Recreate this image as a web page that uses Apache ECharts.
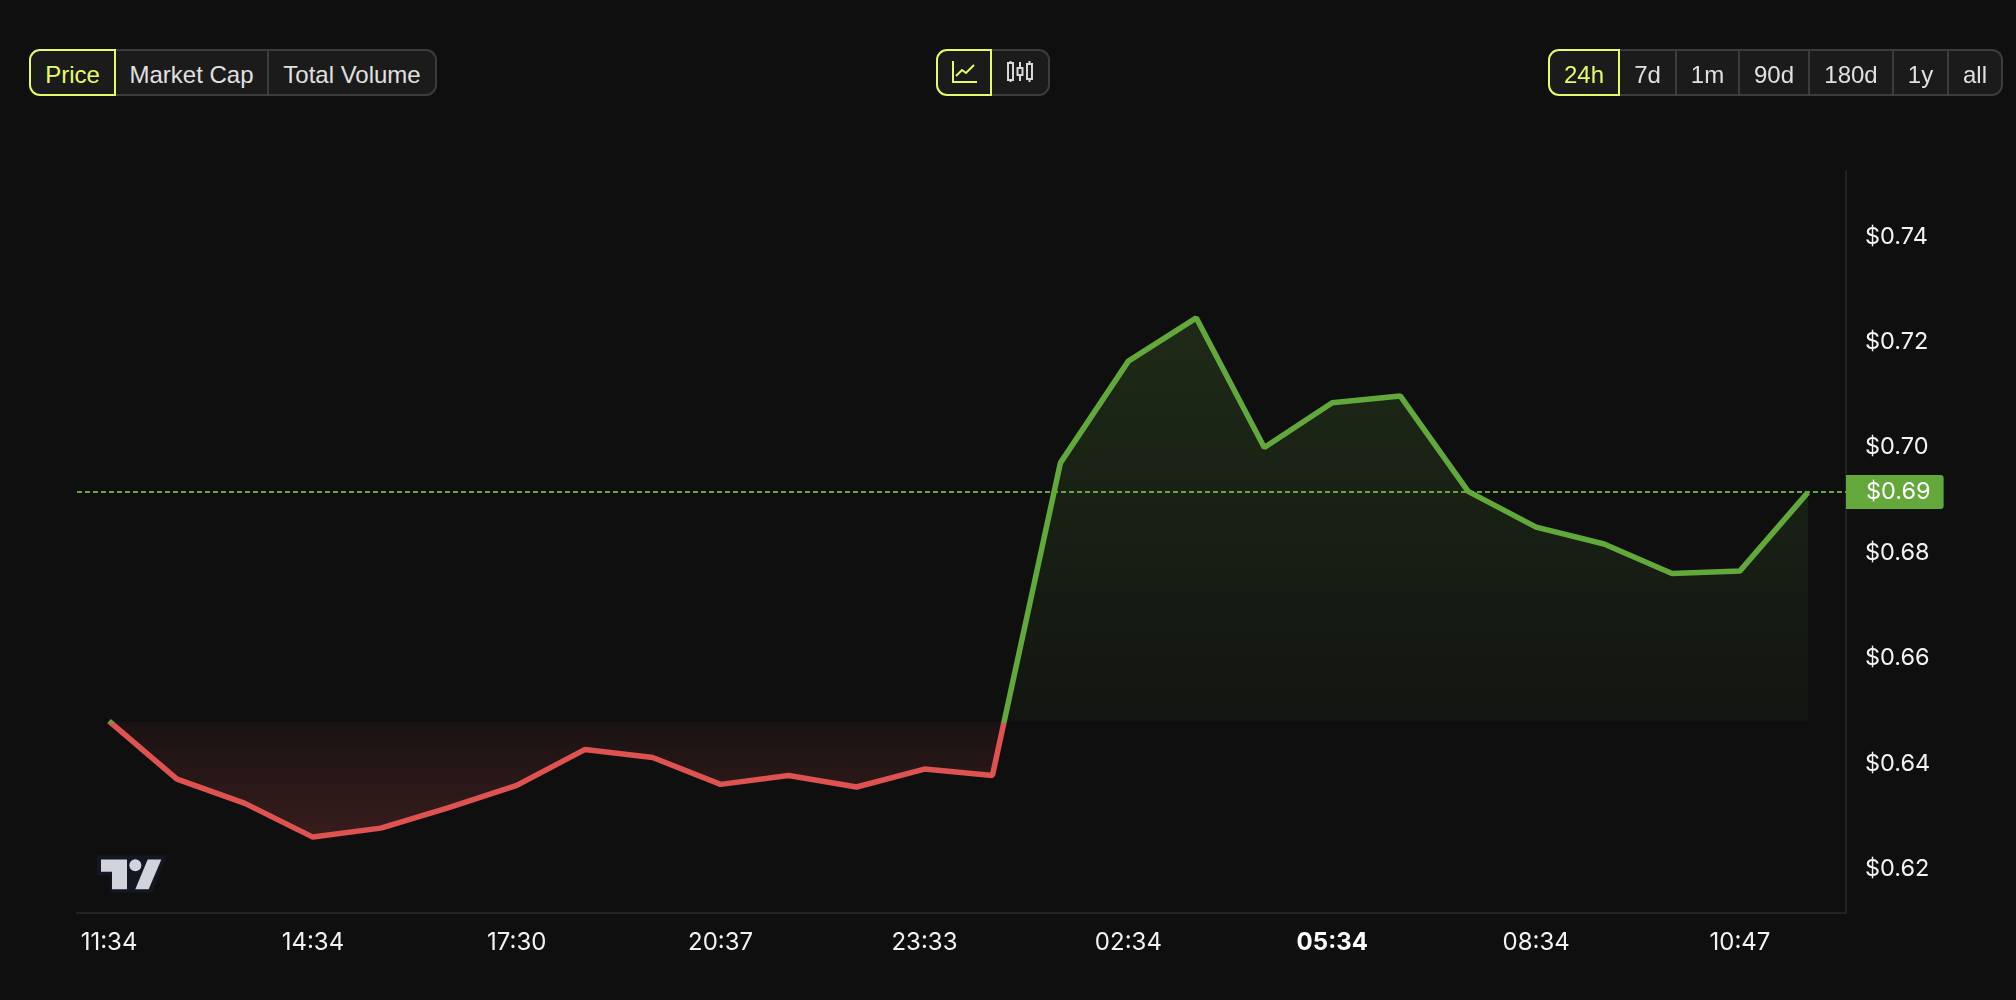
<!DOCTYPE html>
<html>
<head>
<meta charset="utf-8">
<title>Price chart</title>
<script src="https://cdn.jsdelivr.net/npm/echarts@6/dist/echarts.min.js"></script>
<style>
html, body { margin: 0; height: 100%; background: #0f0f0f; overflow: hidden; }
#chart { position: absolute; left: 0; top: 0; width: 2016px; height: 1000px; }
.group {
    position: absolute; top: 49px; height: 47px; display: flex; box-sizing: border-box;
    font: 24px "Liberation Sans", sans-serif; color: #e0e0e0;
}
.group div {
    box-sizing: border-box; height: 47px; line-height: 47px; text-align: center;
    background: #1b1b1b; border: 2px solid #3c3c3c; border-left: 0;
}
.group div:first-child { border-left: 2px solid #3c3c3c; border-radius: 11px 0 0 11px; }
.group div:last-child { border-radius: 0 11px 11px 0; }
.group div.on { color: #e4fc6a; border: 2px solid #e4fc6a; }
.group svg { display: block; margin: 10px auto 0; }
#logo { position: absolute; left: 97px; top: 855px; }
</style>
</head>
<body>
<div id="chart"></div>

<div class="group" style="left:29px">
    <div class="on" style="width:87px">Price</div>
    <div style="width:153px">Market Cap</div>
    <div style="width:168px">Total Volume</div>
</div>

<div class="group" style="left:936px">
    <div class="on" style="width:56px">
        <svg width="26" height="24" viewBox="0 0 26 24" fill="none" stroke="#e4fc6a" stroke-width="2">
            <path d="M2 0V21H26M5 15L11 9L15 12L23 4"/>
        </svg>
    </div>
    <div style="width:58px">
        <svg width="26" height="22" viewBox="0 0 26 22" fill="none" stroke="#d8d8d8" stroke-width="2">
            <path d="M3.5 0V2M3.5 19V21M13 1V7M13 14V20M22.5 0V3M22.5 18V21"/>
            <rect x="1" y="2" width="5" height="17"/>
            <rect x="10.5" y="7" width="5" height="7"/>
            <rect x="20" y="3" width="5" height="15"/>
        </svg>
    </div>
</div>

<div class="group" style="left:1548px">
    <div class="on" style="width:72px">24h</div>
    <div style="width:57px">7d</div>
    <div style="width:63px">1m</div>
    <div style="width:70px">90d</div>
    <div style="width:84px">180d</div>
    <div style="width:55px">1y</div>
    <div style="width:54px">all</div>
</div>

<svg id="logo" width="70" height="38" viewBox="110 465 210 113">
    <path fill="#131722" d="M110 465H320L275 578H148V525H110Z"/>
    <path fill="#d1d4dc" d="M122 478H200V567H155V515H122Z"/>
    <circle fill="#d1d4dc" cx="225" cy="495" r="18"/>
    <path fill="#d1d4dc" d="M262 478H303L265 567H225Z"/>
</svg>

<script>
const times = ['11:34', '12:34', '13:34', '14:34', '15:34', '16:34', '17:30', '18:34', '19:34',
    '20:37', '21:34', '22:34', '23:33', '00:34', '01:34', '02:34', '03:34', '04:34', '05:34',
    '06:34', '07:34', '08:34', '09:34', '10:34', '10:47', '11:34']
const prices = [0.6476, 0.6366, 0.6320, 0.6256, 0.6273, 0.6312, 0.6354, 0.6422, 0.6407,
    0.6356, 0.6373, 0.6351, 0.6385, 0.6373, 0.6966, 0.7159, 0.7241, 0.6995, 0.7080,
    0.7093, 0.6912, 0.6844, 0.6812, 0.6756, 0.6761, 0.6910]
const basePrice = 0.6476
const lastPrice = 0.69106
const priceTicks = [0.62, 0.64, 0.66, 0.68, 0.70, 0.72, 0.74]
const timeTicks = [0, 3, 6, 9, 12, 15, 18, 21, 24]
const boldTime = '05:34'

const green = '#63a83b'
const red = '#de5252'

// where the baseline sits inside the bounding box of the line, 0 = top
const top_ = Math.max(...prices)
const bottom_ = Math.min(...prices)
const split = (top_ - basePrice) / (top_ - bottom_)

const vertical = (stops) => new echarts.graphic.LinearGradient(0, 0, 0, 1, stops)

const option = {
    animation: false,
    backgroundColor: '#0f0f0f',
    textStyle: { fontFamily: 'Inter' },
    grid: { left: 77, right: 170, top: 171, bottom: 87 },
    xAxis: {
        type: 'value',
        min: -0.471,
        max: 25.56,
        splitLine: { show: false },
        axisTick: { show: false },
        axisLine: { show: true, onZero: false, lineStyle: { color: '#232323', width: 2 } },
        axisLabel: {
            customValues: timeTicks,
            color: '#f2f2f2',
            fontSize: 24,
            margin: 18,
            formatter: (v) => times[v] === boldTime ? `{b|${times[v]}}` : times[v],
            rich: { b: { fontFamily: 'Inter', fontSize: 24, fontWeight: 700, color: '#ffffff' } }
        }
    },
    yAxis: {
        type: 'value',
        position: 'right',
        min: 0.6112,
        max: 0.75197,
        splitLine: { show: false },
        axisTick: { show: false },
        axisLine: { show: true, onZero: false, lineStyle: { color: '#232323', width: 2 } },
        axisLabel: {
            customValues: priceTicks,
            color: '#f2f2f2',
            fontSize: 23.5,
            margin: 19,
            formatter: (v) => `{v|$${v.toFixed(2)}}`,
            rich: { v: { fontFamily: 'Inter', fontSize: 23.5, color: '#f2f2f2', padding: [5, 0, 0, 0] } }
        }
    },
    series: [{
        type: 'line',
        data: prices.map((p, i) => [i, p]),
        symbol: 'none',
        silent: true,
        clip: false,
        lineStyle: {
            width: 5.5,
            color: vertical([
                { offset: 0, color: green },
                { offset: split, color: green },
                { offset: split, color: red },
                { offset: 1, color: red }
            ])
        },
        areaStyle: {
            origin: basePrice,
            opacity: 1,
            color: vertical([
                { offset: 0, color: 'rgba(99,168,59,0.18)' },
                { offset: split, color: 'rgba(99,168,59,0.04)' },
                { offset: split, color: 'rgba(222,82,82,0.05)' },
                { offset: 1, color: 'rgba(222,82,82,0.2)' }
            ])
        },
        markLine: {
            silent: true,
            symbol: 'none',
            animation: false,
            precision: 5,
            lineStyle: { color: green, type: [5, 3], width: 2, opacity: 1 },
            label: {
                position: 'end',
                distance: 0,
                formatter: () => '$' + lastPrice.toFixed(2),
                color: '#ffffff',
                fontFamily: 'Inter',
                fontSize: 23.5,
                backgroundColor: '#64a83c',
                borderRadius: [0, 3, 3, 0],
                lineHeight: 34,
                padding: [0, 13, 0, 20]
            },
            data: [{ yAxis: lastPrice }]
        }
    }]
}

const myChart = echarts.init(document.getElementById('chart'))
myChart.setOption(option)
</script>
</body>
</html>
